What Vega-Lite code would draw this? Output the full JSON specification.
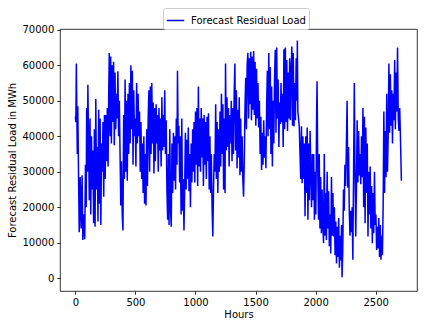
{
  "$schema": "https://vega.github.io/schema/vega-lite/v6.json",
  "width": 357,
  "height": 262,
  "autosize": "none",
  "padding": {"left": 60, "top": 29, "right": 8, "bottom": 37},
  "background": "white",
  "data": {"values": [
{"h":0,"v":45600},{"h":4,"v":44000},{"h":8,"v":60500},{"h":12,"v":47000},{"h":16,"v":35000},{"h":20,"v":48500},{"h":26,"v":30000},{"h":32,"v":13000},{"h":40,"v":28500},{"h":48,"v":14000},{"h":56,"v":29000},{"h":62,"v":10800},{"h":70,"v":18000},{"h":78,"v":11000},
{"h":84,"v":32000},{"h":90,"v":20000},{"h":94,"v":48000},{"h":100,"v":30000},{"h":104,"v":54500},{"h":110,"v":38000},{"h":116,"v":22000},{"h":122,"v":45000},{"h":128,"v":18000},{"h":134,"v":40000},{"h":140,"v":25000},{"h":146,"v":36000},
{"h":152,"v":15500},{"h":158,"v":42000},{"h":164,"v":14500},{"h":170,"v":50500},{"h":176,"v":25000},{"h":182,"v":37000},{"h":188,"v":16000},{"h":194,"v":47500},{"h":200,"v":21000},{"h":206,"v":45000},{"h":212,"v":15000},{"h":218,"v":38000},{"h":224,"v":30000},{"h":230,"v":44000},{"h":236,"v":23000},{"h":242,"v":46000},
{"h":248,"v":28000},{"h":254,"v":46000},{"h":260,"v":33000},{"h":266,"v":48000},{"h":272,"v":31500},{"h":278,"v":53000},
{"h":282,"v":63500},{"h":288,"v":40000},{"h":294,"v":62500},{"h":300,"v":38000},{"h":306,"v":60000},{"h":312,"v":44000},{"h":318,"v":61000},{"h":324,"v":37500},
{"h":330,"v":58000},{"h":336,"v":42000},{"h":342,"v":52000},{"h":348,"v":45000},{"h":354,"v":58300},{"h":360,"v":40000},{"h":366,"v":50000},
{"h":372,"v":35000},{"h":378,"v":20500},{"h":384,"v":33000},{"h":390,"v":18000},{"h":396,"v":13500},
{"h":402,"v":46000},{"h":408,"v":28000},{"h":414,"v":56000},{"h":420,"v":30000},{"h":426,"v":50000},{"h":432,"v":27500},{"h":438,"v":52000},{"h":444,"v":35000},{"h":450,"v":55000},{"h":456,"v":38000},{"h":462,"v":60000},
{"h":468,"v":42000},{"h":474,"v":58500},{"h":480,"v":32000},{"h":486,"v":53000},{"h":492,"v":40000},{"h":498,"v":45000},{"h":504,"v":31500},{"h":510,"v":55000},{"h":516,"v":38000},{"h":522,"v":52000},{"h":528,"v":40000},{"h":534,"v":47000},
{"h":540,"v":30000},{"h":546,"v":44000},{"h":552,"v":28000},{"h":558,"v":38000},{"h":564,"v":24000},{"h":570,"v":40000},{"h":576,"v":21000},{"h":582,"v":35000},{"h":588,"v":20500},{"h":594,"v":42000},{"h":600,"v":26000},
{"h":606,"v":45000},{"h":612,"v":53000},{"h":618,"v":30000},{"h":624,"v":54000},{"h":630,"v":35000},{"h":636,"v":55000},{"h":642,"v":38000},{"h":648,"v":49500},{"h":654,"v":29500},
{"h":660,"v":48000},{"h":666,"v":33000},{"h":672,"v":49000},{"h":678,"v":38000},{"h":684,"v":46000},{"h":690,"v":30000},{"h":696,"v":48000},{"h":702,"v":36000},{"h":708,"v":45000},{"h":714,"v":31500},
{"h":720,"v":51000},{"h":726,"v":36000},{"h":732,"v":46000},{"h":738,"v":37000},{"h":744,"v":53000},{"h":750,"v":35000},{"h":756,"v":44500},
{"h":762,"v":25000},{"h":768,"v":16500},{"h":774,"v":35000},{"h":780,"v":15000},{"h":786,"v":42000},{"h":792,"v":20000},{"h":798,"v":14500},
{"h":804,"v":38000},{"h":810,"v":24000},{"h":816,"v":41000},{"h":822,"v":27500},{"h":828,"v":40000},{"h":834,"v":25000},{"h":840,"v":45000},{"h":846,"v":32000},{"h":850,"v":58500},{"h":856,"v":38000},
{"h":862,"v":43000},{"h":868,"v":27000},{"h":874,"v":40000},{"h":880,"v":18000},{"h":886,"v":45000},{"h":892,"v":19000},{"h":898,"v":28000},{"h":904,"v":13500},
{"h":910,"v":26000},{"h":916,"v":41000},{"h":922,"v":25000},{"h":928,"v":39000},{"h":934,"v":28000},{"h":940,"v":42500},{"h":946,"v":24500},{"h":952,"v":35000},{"h":958,"v":20000},{"h":964,"v":38000},{"h":970,"v":27000},{"h":976,"v":42000},
{"h":982,"v":30000},{"h":988,"v":44000},{"h":994,"v":27000},{"h":1000,"v":47000},{"h":1006,"v":32000},{"h":1012,"v":48000},{"h":1018,"v":26000},{"h":1024,"v":54000},{"h":1030,"v":31500},
{"h":1036,"v":45000},{"h":1042,"v":30000},{"h":1048,"v":48000},{"h":1054,"v":34000},{"h":1060,"v":45000},{"h":1066,"v":26000},{"h":1072,"v":46000},{"h":1078,"v":32000},{"h":1084,"v":44000},
{"h":1090,"v":28000},{"h":1096,"v":45500},{"h":1102,"v":33000},{"h":1108,"v":46500},{"h":1114,"v":25000},{"h":1120,"v":40000},{"h":1126,"v":24000},{"h":1132,"v":35000},{"h":1138,"v":20000},{"h":1144,"v":11800},
{"h":1150,"v":25000},{"h":1156,"v":35000},{"h":1162,"v":30000},{"h":1168,"v":49000},{"h":1174,"v":28000},{"h":1180,"v":44000},{"h":1186,"v":24000},{"h":1192,"v":42000},{"h":1198,"v":30000},
{"h":1204,"v":47000},{"h":1210,"v":31500},{"h":1216,"v":52000},{"h":1222,"v":35000},{"h":1228,"v":49000},{"h":1234,"v":25000},{"h":1240,"v":45000},{"h":1246,"v":24000},{"h":1250,"v":60500},{"h":1256,"v":36000},
{"h":1262,"v":51000},{"h":1268,"v":37000},{"h":1274,"v":48000},{"h":1280,"v":31500},{"h":1286,"v":46000},{"h":1292,"v":38000},{"h":1298,"v":50000},{"h":1304,"v":33000},{"h":1310,"v":48000},
{"h":1316,"v":35000},{"h":1322,"v":52000},{"h":1328,"v":60500},{"h":1334,"v":36000},{"h":1340,"v":53000},{"h":1346,"v":31000},{"h":1352,"v":47500},{"h":1358,"v":34000},{"h":1364,"v":51000},{"h":1370,"v":29000},{"h":1376,"v":45000},{"h":1382,"v":30000},{"h":1388,"v":40000},{"h":1394,"v":28000},{"h":1400,"v":23000},{"h":1406,"v":33000},
{"h":1412,"v":48000},{"h":1418,"v":56500},{"h":1424,"v":42000},{"h":1430,"v":60000},{"h":1436,"v":63500},{"h":1442,"v":45000},{"h":1448,"v":62000},{"h":1454,"v":49000},{"h":1460,"v":63800},
{"h":1466,"v":44500},{"h":1472,"v":62500},{"h":1478,"v":47500},{"h":1484,"v":64000},{"h":1490,"v":46000},{"h":1496,"v":61000},{"h":1502,"v":43000},{"h":1508,"v":59000},{"h":1514,"v":45000},{"h":1520,"v":55000},{"h":1526,"v":42500},{"h":1532,"v":50000},
{"h":1538,"v":35000},{"h":1544,"v":45500},{"h":1550,"v":30500},{"h":1556,"v":41000},{"h":1562,"v":32000},{"h":1568,"v":44500},{"h":1574,"v":34000},{"h":1580,"v":40000},{"h":1586,"v":31000},
{"h":1592,"v":48000},{"h":1598,"v":58500},{"h":1604,"v":40000},{"h":1610,"v":63500},{"h":1616,"v":42000},{"h":1622,"v":59500},{"h":1628,"v":35000},{"h":1634,"v":54000},{"h":1640,"v":31500},{"h":1646,"v":50000},{"h":1652,"v":38000},
{"h":1658,"v":56000},{"h":1664,"v":64400},{"h":1670,"v":41000},{"h":1676,"v":65000},{"h":1682,"v":45000},{"h":1688,"v":56000},{"h":1694,"v":37000},{"h":1700,"v":49500},{"h":1706,"v":43500},{"h":1712,"v":55000},{"h":1718,"v":44000},{"h":1724,"v":52000},
{"h":1730,"v":37000},{"h":1736,"v":64500},{"h":1742,"v":42000},{"h":1748,"v":65000},{"h":1754,"v":44000},{"h":1760,"v":61500},{"h":1766,"v":41500},{"h":1772,"v":58000},{"h":1778,"v":45000},{"h":1784,"v":62000},{"h":1790,"v":44500},{"h":1796,"v":58000},{"h":1802,"v":65300},{"h":1808,"v":43000},
{"h":1814,"v":63500},{"h":1820,"v":42800},{"h":1826,"v":55000},{"h":1832,"v":44500},{"h":1838,"v":62000},{"h":1844,"v":50000},{"h":1848,"v":67000},{"h":1852,"v":47000},
{"h":1858,"v":45000},{"h":1864,"v":42500},{"h":1870,"v":35000},{"h":1876,"v":28000},{"h":1882,"v":42800},{"h":1888,"v":26800},{"h":1894,"v":40000},
{"h":1900,"v":28000},{"h":1906,"v":38000},{"h":1912,"v":17500},{"h":1918,"v":40000},{"h":1924,"v":24000},{"h":1930,"v":42500},{"h":1936,"v":16500},{"h":1942,"v":38000},{"h":1948,"v":22000},{"h":1954,"v":41500},{"h":1960,"v":30000},{"h":1966,"v":20000},{"h":1972,"v":35000},
{"h":1978,"v":22000},{"h":1984,"v":35000},{"h":1990,"v":16500},{"h":1996,"v":30000},{"h":2002,"v":18000},{"h":2008,"v":45000},{"h":2012,"v":55500},{"h":2018,"v":30000},
{"h":2024,"v":16500},{"h":2030,"v":35000},{"h":2036,"v":14000},{"h":2042,"v":28500},{"h":2048,"v":12700},{"h":2054,"v":25000},{"h":2060,"v":15000},
{"h":2066,"v":9900},{"h":2072,"v":35000},{"h":2078,"v":12000},{"h":2084,"v":24000},{"h":2090,"v":10800},{"h":2096,"v":30000},{"h":2102,"v":14000},
{"h":2108,"v":24500},{"h":2114,"v":9000},{"h":2120,"v":18000},{"h":2126,"v":7000},{"h":2132,"v":28500},{"h":2138,"v":12000},{"h":2144,"v":24000},{"h":2150,"v":11800},{"h":2156,"v":20000},{"h":2162,"v":6500},{"h":2168,"v":16000},
{"h":2174,"v":4200},{"h":2180,"v":14500},{"h":2186,"v":6000},{"h":2192,"v":17000},{"h":2198,"v":3000},{"h":2204,"v":12000},{"h":2210,"v":5000},{"h":2216,"v":15000},{"h":2220,"v":300},{"h":2226,"v":8000},
{"h":2232,"v":25000},{"h":2238,"v":19000},{"h":2244,"v":32000},{"h":2250,"v":26000},{"h":2256,"v":37000},{"h":2262,"v":50000},{"h":2268,"v":25500},{"h":2274,"v":37000},{"h":2280,"v":19500},
{"h":2286,"v":12000},{"h":2292,"v":19000},{"h":2298,"v":13000},{"h":2304,"v":20000},{"h":2310,"v":5200},{"h":2316,"v":30000},{"h":2322,"v":55000},{"h":2328,"v":30000},{"h":2334,"v":11800},
{"h":2340,"v":26000},{"h":2346,"v":44500},{"h":2352,"v":27000},{"h":2358,"v":41500},{"h":2364,"v":29000},{"h":2370,"v":35000},{"h":2376,"v":26500},{"h":2382,"v":40000},{"h":2388,"v":28500},
{"h":2394,"v":48000},{"h":2400,"v":20000},{"h":2406,"v":45500},{"h":2412,"v":15500},{"h":2418,"v":42500},{"h":2424,"v":24000},{"h":2430,"v":38000},{"h":2436,"v":11800},{"h":2442,"v":30000},{"h":2448,"v":18000},
{"h":2454,"v":31500},{"h":2460,"v":14000},{"h":2466,"v":26000},{"h":2472,"v":9900},{"h":2478,"v":24000},{"h":2484,"v":12700},{"h":2490,"v":30000},{"h":2496,"v":15000},{"h":2502,"v":18000},
{"h":2508,"v":8000},{"h":2514,"v":14500},{"h":2520,"v":8500},{"h":2526,"v":17000},{"h":2532,"v":6000},{"h":2538,"v":15000},{"h":2544,"v":5200},{"h":2550,"v":12000},{"h":2556,"v":6500},
{"h":2562,"v":20000},{"h":2568,"v":47000},{"h":2574,"v":24000},{"h":2580,"v":41500},{"h":2586,"v":28500},{"h":2592,"v":52000},{"h":2598,"v":30000},
{"h":2604,"v":40000},{"h":2610,"v":60500},{"h":2616,"v":41000},{"h":2622,"v":57500},{"h":2628,"v":43000},{"h":2634,"v":53000},{"h":2640,"v":38000},
{"h":2646,"v":52000},{"h":2652,"v":44500},{"h":2658,"v":61500},{"h":2664,"v":42000},{"h":2670,"v":58000},{"h":2676,"v":47000},{"h":2682,"v":65000},
{"h":2688,"v":45000},{"h":2694,"v":41500},{"h":2700,"v":48000},{"h":2706,"v":40000},{"h":2714,"v":27500}
  ]},
  "mark": {"type": "line", "strokeWidth": 1.5, "clip": true},
  "encoding": {
    "x": {
      "field": "h", "type": "quantitative",
      "scale": {"domain": [-128, 2844], "nice": false, "zero": false},
      "axis": {"title": "Hours", "values": [0, 500, 1000, 1500, 2000, 2500], "format": "d", "titlePadding": 2}
    },
    "y": {
      "field": "v", "type": "quantitative",
      "scale": {"domain": [-3580, 70230], "nice": false, "zero": false},
      "axis": {"title": "Forecast Residual Load in MWh", "values": [0, 10000, 20000, 30000, 40000, 50000, 60000, 70000], "format": "d", "titlePadding": 4}
    },
    "color": {
      "datum": "Forecast Residual Load",
      "type": "nominal",
      "scale": {"range": ["#0000ff"]},
      "legend": {
        "title": null,
        "orient": "none",
        "legendX": 103,
        "legendY": -21,
        "symbolType": "stroke",
        "symbolSize": 300,
        "symbolStrokeWidth": 1.5,
        "labelFontSize": 10,
        "labelFont": "DejaVu Sans",
        "labelColor": "#000",
        "strokeColor": "#cccccc",
        "fillColor": "white",
        "cornerRadius": 2,
        "padding": 3,
        "labelOffset": 6
      }
    }
  },
  "config": {
    "font": "DejaVu Sans",
    "view": {"stroke": "#000", "strokeWidth": 0.8},
    "axis": {
      "domain": false,
      "grid": false,
      "ticks": true,
      "tickColor": "#000",
      "tickSize": 3.2,
      "tickWidth": 0.8,
      "labelFont": "DejaVu Sans",
      "labelFontSize": 10,
      "labelColor": "#000",
      "labelPadding": 3,
      "titleFont": "DejaVu Sans",
      "titleFontSize": 10,
      "titleFontWeight": "normal",
      "titleColor": "#000"
    }
  }
}
